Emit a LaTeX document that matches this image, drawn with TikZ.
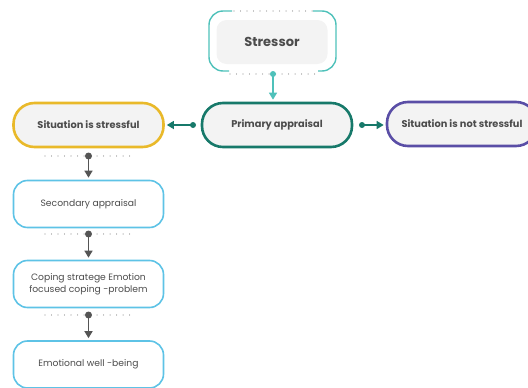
\documentclass[tikz,border=0pt]{standalone}
\usepackage{fontspec}
\setmainfont{Poppins}
\usetikzlibrary{arrows.meta}
\definecolor{stresslight}{HTML}{4FC1BA}
\definecolor{primteal}{HTML}{17796A}
\definecolor{stressyellow}{HTML}{E9B92A}
\definecolor{notpurple}{HTML}{5A4EA6}
\definecolor{stepblue}{HTML}{5EC3E6}
\definecolor{pillgray}{HTML}{F3F3F3}
\definecolor{textgray}{HTML}{4C4C4C}
\definecolor{dotgray}{HTML}{555555}
\tikzset{
  pill/.style={draw, line width=2.6pt, rounded corners=21pt, minimum width=150pt, minimum height=44pt, fill=pillgray, text=textgray, font=\fontsize{9.8}{11}\selectfont\bfseries},
  stepbox/.style={draw=stepblue, line width=1.6pt, rounded corners=14pt, minimum width=150pt, minimum height=47pt, fill=white, text=textgray, font=\fontsize{9.2}{12.5}\selectfont, align=center},
  link/.style={-{Triangle[length=7pt,width=8pt]}, line width=1.3pt, shorten >=2pt},
  dotrow/.style={dash pattern=on 0.01pt off 6.5pt, line cap=round, line width=1.2pt, gray!55},
}
\begin{document}
\begin{tikzpicture}[x=1pt,y=-1pt]
\useasboundingbox (0,0) rectangle (528,388);

\node[fill=pillgray, rounded corners=10pt, minimum width=111pt, minimum height=44pt, text=textgray, font=\fontsize{13}{15}\selectfont\bfseries] (stressor) at (272,42) {Stressor};
\draw[stresslight, line width=1.4pt, rounded corners=14pt] (232,11) -| (209,71) -- (229,71);
\draw[stresslight, line width=1.4pt, rounded corners=14pt] (313,11) -| (336,71) -- (318,71);
\draw[dotrow] (234,11) -- (313,11);
\draw[dotrow] (230,74) -- (318,74);

\node[pill, draw=primteal] (primary) at (277,125) {Primary appraisal};
\node[pill, draw=stressyellow] (stressful) at (88.5,125) {Situation is stressful};
\node[pill, draw=notpurple] (notstressful) at (462,124) {Situation is not stressful};

\node[stepbox] (secondary) at (88.5,204) {Secondary appraisal};
\node[stepbox] (coping) at (88.5,284) {Coping stratege Emotion\\focused coping -problem};
\node[stepbox] (wellbeing) at (88.5,364.5) {Emotional well -being};

\coordinate (s0) at (273,74);
\fill[stresslight] (s0) circle (3);
\draw[link, stresslight] (s0) -- (s0 |- primary.north);

\coordinate (pl) at (193,125);
\fill[primteal] (pl) circle (3);
\draw[link, primteal] (pl) -- (stressful.east);
\coordinate (pr) at (362,125);
\fill[primteal] (pr) circle (3);
\draw[link, primteal] (pr) -- (pr -| notstressful.west);

\coordinate (d1) at (88.5,156);
\draw[dotrow] (45,156) -- (135,156);
\fill[dotgray] (d1) circle (3.5);
\draw[link, dotgray] (d1) -- (secondary.north);

\coordinate (d2) at (88.5,234);
\draw[dotrow] (45,234) -- (135,234);
\fill[dotgray] (d2) circle (3.5);
\draw[link, dotgray] (d2) -- (coping.north);

\coordinate (d3) at (88.5,315);
\draw[dotrow] (45,315) -- (135,315);
\fill[dotgray] (d3) circle (3.5);
\draw[link, dotgray] (d3) -- (wellbeing.north);

\end{tikzpicture}
\end{document}
